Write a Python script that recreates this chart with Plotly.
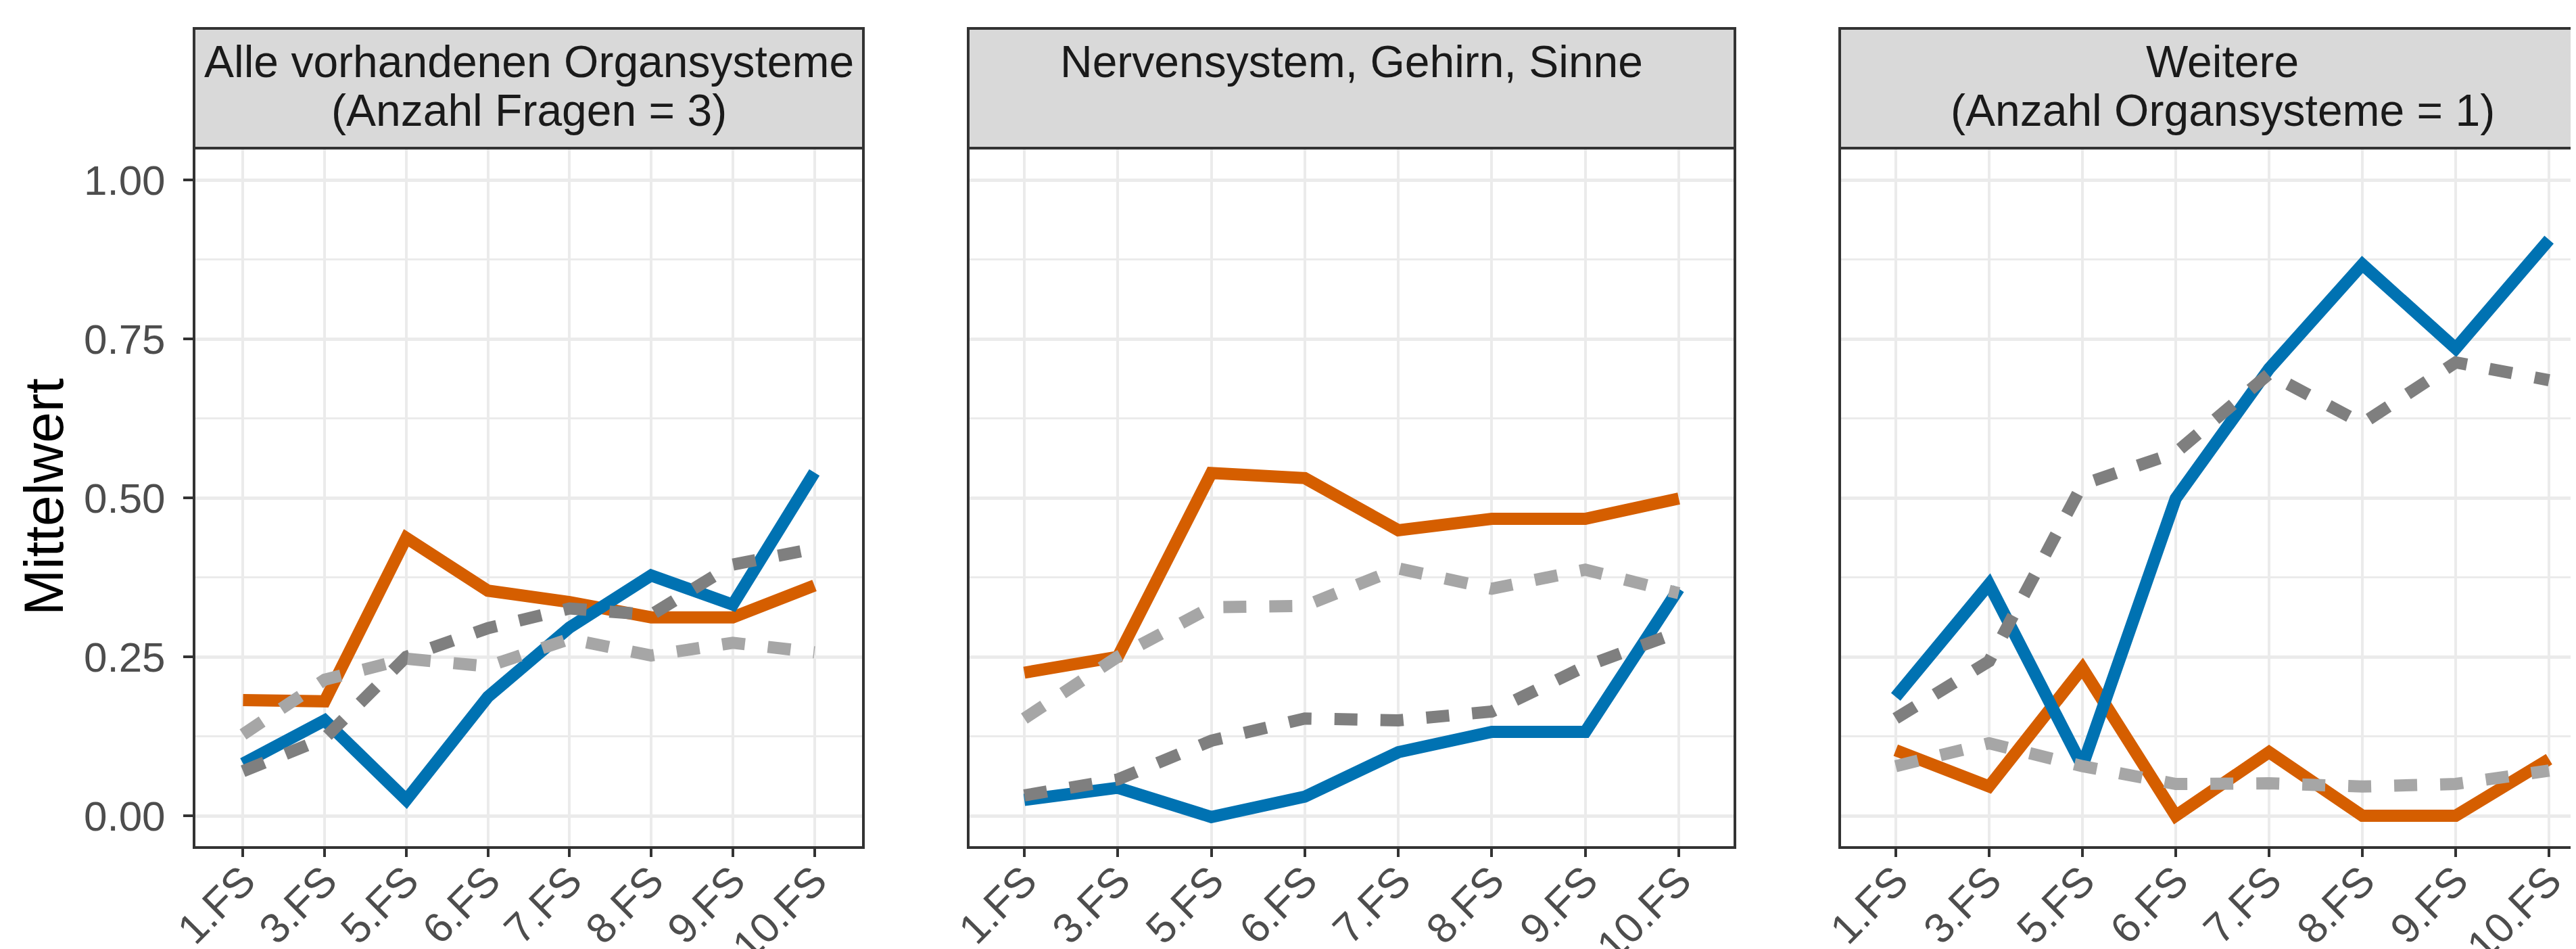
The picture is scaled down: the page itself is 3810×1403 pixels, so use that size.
import plotly.graph_objects as go

kategorien = ["1.FS", "3.FS", "5.FS", "6.FS", "7.FS", "8.FS", "9.FS", "10.FS"]

# Panel 1: Alle vorhandenen Organsysteme
p1_orange = [0.182, 0.180, 0.437, 0.354, 0.336, 0.312, 0.312, 0.362]
p1_blau = [0.082, 0.150, 0.025, 0.187, 0.296, 0.378, 0.332, 0.540]
p1_dunkelgrau = [0.070, 0.122, 0.250, 0.295, 0.326, 0.316, 0.395, 0.420]
p1_hellgrau = [0.128, 0.214, 0.247, 0.235, 0.278, 0.252, 0.272, 0.257]

# Panel 2: Nervensystem, Gehirn, Sinne
p2_orange = [0.225, 0.250, 0.539, 0.531, 0.449, 0.467, 0.467, 0.499]
p2_blau = [0.025, 0.044, -0.002, 0.030, 0.100, 0.132, 0.132, 0.357]
p2_dunkelgrau = [0.032, 0.057, 0.118, 0.153, 0.150, 0.164, 0.235, 0.289]
p2_hellgrau = [0.153, 0.250, 0.328, 0.330, 0.389, 0.357, 0.387, 0.350]

# Panel 3: Weitere
p3_orange = [0.103, 0.046, 0.232, 0.000, 0.100, 0.000, 0.000, 0.089]
p3_blau = [0.187, 0.364, 0.078, 0.499, 0.703, 0.867, 0.735, 0.906]
p3_dunkelgrau = [0.153, 0.243, 0.521, 0.571, 0.695, 0.617, 0.713, 0.685]
p3_hellgrau = [0.078, 0.114, 0.078, 0.050, 0.051, 0.046, 0.050, 0.071]

streifen = [
    ["Alle vorhandenen Organsysteme", "(Anzahl Fragen = 3)"],
    ["Nervensystem, Gehirn, Sinne"],
    ["Weitere", "(Anzahl Organsysteme = 1)"],
]
y_ticks = [0.0, 0.25, 0.5, 0.75, 1.0]
y_ticktext = ["0.00", "0.25", "0.50", "0.75", "1.00"]

W, H = 3810, 1403
FONT = "Liberation Sans, Arial, sans-serif"

# panel pixel extents (left, right); last one runs past the picture edge
panels_px = [(279, 1269), (1424, 2558), (2713, 3845)]
plot_top, plot_bottom = 211, 1245
strip_top = 34

panels = [
    (p1_orange, p1_blau, p1_dunkelgrau, p1_hellgrau),
    (p2_orange, p2_blau, p2_dunkelgrau, p2_hellgrau),
    (p3_orange, p3_blau, p3_dunkelgrau, p3_hellgrau),
]

LW = 18
fig = go.Figure()

for i, (orange, blau, dgrau, hgrau) in enumerate(panels):
    ax = "" if i == 0 else str(i + 1)
    xa, ya = "x" + ax, "y" + ax
    fig.add_trace(go.Scatter(x=kategorien, y=orange, mode="lines", xaxis=xa, yaxis=ya,
                             line=dict(color="#D55E00", width=LW)))
    fig.add_trace(go.Scatter(x=kategorien, y=blau, mode="lines", xaxis=xa, yaxis=ya,
                             line=dict(color="#0072B2", width=LW)))
    fig.add_trace(go.Scatter(x=kategorien, y=dgrau, mode="lines", xaxis=xa, yaxis=ya,
                             line=dict(color="#7F7F7F", width=LW, dash="34px,34px")))
    fig.add_trace(go.Scatter(x=kategorien, y=hgrau, mode="lines", xaxis=xa, yaxis=ya,
                             line=dict(color="#A6A6A6", width=LW, dash="34px,34px")))

ydom = [(H - plot_bottom) / H, (H - plot_top) / H]
shapes = []
annotations = []

for i, (l, r) in enumerate(panels_px):
    ax = "" if i == 0 else str(i + 1)
    x0 = l / W
    x1 = min(r / W, 1.0)
    step = (r - l) / 8.2
    rng_hi = -0.6 + (x1 * W - l) / step
    fig.layout["xaxis" + ax] = dict(
        domain=[x0, x1], anchor="y" + ax, type="category",
        range=[-0.6, rng_hi], showgrid=True, gridcolor="#EBEBEB", gridwidth=4,
        ticks="outside", ticklen=13, tickwidth=4, tickcolor="#333333",
        tickangle=-45, tickfont=dict(family=FONT, size=62, color="#4D4D4D"),
        showline=False, zeroline=False, automargin=False, ticklabelstandoff=-26,
    )
    fig.layout["yaxis" + ax] = dict(
        domain=ydom, anchor="x" + ax, range=[-0.05, 1.05],
        tickvals=y_ticks, ticktext=y_ticktext,
        showticklabels=(i == 0), ticks="outside" if i == 0 else "",
        ticklen=15, tickwidth=4, tickcolor="#333333",
        tickfont=dict(family=FONT, size=62, color="#4D4D4D"),
        showgrid=True, gridcolor="#EBEBEB", gridwidth=5,
        minor=dict(dtick=0.125, tick0=0, showgrid=True, gridcolor="#EBEBEB", gridwidth=3, ticks=""),
        showline=False, zeroline=False, automargin=False, ticklabelstandoff=14,
    )
    # panel border
    shapes.append(dict(type="rect", xref="paper", yref="paper", layer="above",
                       x0=l / W, x1=r / W, y0=ydom[0], y1=ydom[1],
                       line=dict(color="#333333", width=4), fillcolor="rgba(0,0,0,0)"))
    # strip
    shapes.append(dict(type="rect", xref="paper", yref="paper", layer="above",
                       x0=l / W, x1=r / W, y0=ydom[1], y1=(H - strip_top) / H,
                       line=dict(color="#333333", width=4), fillcolor="#D9D9D9"))
    cx = (l + r) / 2 / W
    for j, zeile in enumerate(streifen[i]):
        yc = [83, 155][j]
        annotations.append(dict(text=zeile, xref="paper", yref="paper", x=cx,
                                y=(H - yc) / H, xanchor="center", yanchor="middle",
                                showarrow=False,
                                font=dict(family=FONT, size=66, color="#1A1A1A")))

annotations.append(dict(text="Mittelwert", xref="paper", yref="paper",
                        x=56 / W, y=(H - 727) / H, xanchor="center", yanchor="middle",
                        textangle=-90, showarrow=False,
                        font=dict(family=FONT, size=82, color="#000000")))

fig.update_layout(
    width=W, height=H,
    margin=dict(l=0, r=0, t=0, b=0),
    paper_bgcolor="white", plot_bgcolor="white",
    template="none",
    showlegend=False,
    shapes=shapes,
    annotations=annotations,
)

fig.write_html("out.html")
